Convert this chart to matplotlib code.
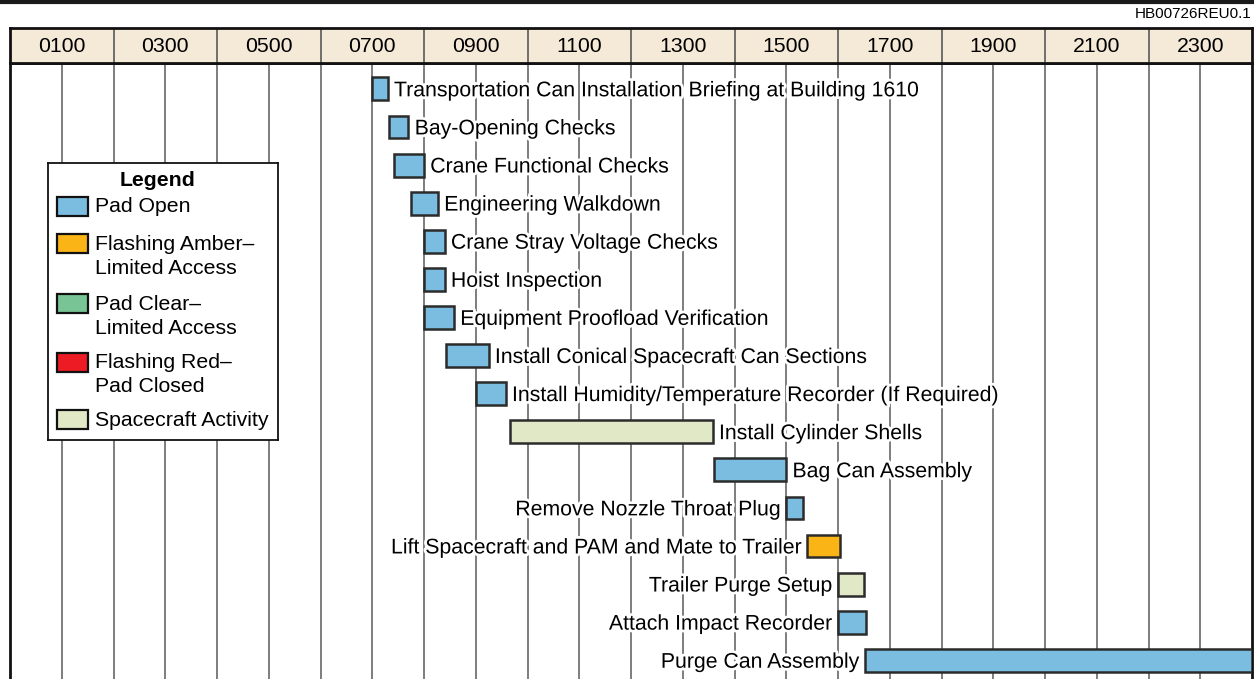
import matplotlib
matplotlib.use("Agg")
import matplotlib.pyplot as plt
from matplotlib.patches import Rectangle
from matplotlib.lines import Line2D
import matplotlib.patheffects as pe

plt.rcParams["font.family"] = ["Liberation Sans", "DejaVu Sans"]

# --- data -------------------------------------------------------------
tasks = [
    "Transportation Can Installation Briefing at Building 1610",
    "Bay-Opening Checks",
    "Crane Functional Checks",
    "Engineering Walkdown",
    "Crane Stray Voltage Checks",
    "Hoist Inspection",
    "Equipment Proofload Verification",
    "Install Conical Spacecraft Can Sections",
    "Install Humidity/Temperature Recorder (If Required)",
    "Install Cylinder Shells",
    "Bag Can Assembly",
    "Remove Nozzle Throat Plug",
    "Lift Spacecraft and PAM and Mate to Trailer",
    "Trailer Purge Setup",
    "Attach Impact Recorder",
    "Purge Can Assembly",
]
start_hr = [7.0, 7.33, 7.42, 7.75, 8.0, 8.0, 8.0, 8.42, 9.0, 9.67,
            13.6, 15.0, 15.4, 16.0, 16.0, 16.52]
end_hr = [7.3, 7.7, 8.0, 8.27, 8.4, 8.4, 8.58, 9.25, 9.58, 13.58,
          15.0, 15.33, 16.03, 16.5, 16.55, 24.0]
status = ["open", "open", "open", "open", "open", "open", "open", "open",
          "open", "sc", "open", "open", "amber", "sc", "open", "open"]
label_side = ["right"] * 11 + ["left"] * 5

hour_labels = ["0100", "0300", "0500", "0700", "0900", "1100",
               "1300", "1500", "1700", "1900", "2100", "2300"]

legend_keys = ["open", "amber", "clear", "red", "sc"]
legend_labels = [["Pad Open"],
                 ["Flashing Amber\u2013", "Limited Access"],
                 ["Pad Clear\u2013", "Limited Access"],
                 ["Flashing Red\u2013", "Pad Closed"],
                 ["Spacecraft Activity"]]
colors = {"open": "#7bbde0", "amber": "#fbb416", "clear": "#79c494",
          "red": "#ed1c24", "sc": "#e1e8c6"}

# --- figure -----------------------------------------------------------
W, H = 1254, 679
fig = plt.figure(figsize=(W / 100, H / 100), dpi=100)
edge = "#2b2b2b"
grid = "#5a5a5a"
fs = 15.3

left = 10 / W
width = 1242 / W
body_top = 63
head_top = 28

ax = fig.add_axes([left, 0, width, (H - body_top) / H])
hx = fig.add_axes([left, (H - body_top) / H, width, (body_top - head_top) / H])

# header band
hx.set_xlim(0, 24)
hx.set_ylim(0, 1)
hx.set_facecolor("#f5e9d7")
hx.vlines(range(2, 24, 2), 0, 1, color=grid, lw=1.2)
for i, lab in enumerate(hour_labels):
    hx.text(2 * i + 1, 0.46, lab, ha="center", va="center", fontsize=fs)
hx.set_xticks([])
hx.set_yticks([])
for s in hx.spines.values():
    s.set_color("#111111")
    s.set_linewidth(2)

# body
n = len(tasks)
ax.set_xlim(0, 24)
ax.set_ylim(15.49, -0.68)
ax.vlines(range(1, 24), -1, n + 1, color=grid, lw=1.1, zorder=1)
ax.set_xticks([])
ax.set_yticks([])
for s in ax.spines.values():
    s.set_color("#111111")
    s.set_linewidth(2)
ax.spines["bottom"].set_visible(False)

halo = [pe.withStroke(linewidth=4, foreground="white")]
for i, (t, a, b, st, side) in enumerate(zip(tasks, start_hr, end_hr, status, label_side)):
    ax.barh(i, b - a, left=a, height=0.6, color=colors[st],
            edgecolor=edge, linewidth=1.8, zorder=3)
    if side == "right":
        ax.text(b + 0.12, i + 0.05, t, ha="left", va="center", fontsize=fs,
                zorder=4, path_effects=halo)
    else:
        ax.text(a - 0.11, i + 0.05, t, ha="right", va="center", fontsize=fs,
                zorder=4, path_effects=halo)

# legend box (own axes, pixel units inside the box)
lx0, ly0, lw, lh = 48, 163, 230, 277
lg = fig.add_axes([lx0 / W, 1 - (ly0 + lh) / H, lw / W, lh / H])
lg.set_xlim(0, lw)
lg.set_ylim(lh, 0)
lg.set_xticks([])
lg.set_yticks([])
for s in lg.spines.values():
    s.set_color("#111111")
    s.set_linewidth(1.3)
lg.text(110, 17, "Legend", ha="center", va="center", fontsize=fs,
        fontweight="bold")
entry_y = [43, 80, 140, 199, 256]
line_gap = 24
for key, lines, y in zip(legend_keys, legend_labels, entry_y):
    lg.add_patch(Rectangle((9, y - 9.5), 31, 19, facecolor=colors[key],
                           edgecolor="#111111", linewidth=1.6))
    for k, line in enumerate(lines):
        lg.text(47, y + 1 + k * line_gap, line, ha="left", va="center",
                fontsize=fs)

# top rule and figure id
fig.add_artist(Line2D([0, 1], [1 - 1.5 / H, 1 - 1.5 / H], color="#1a1a1a", lw=3))
fig.text(1 - 3 / W, 1 - 14 / H, "HB00726REU0.1", ha="right", va="center", fontsize=11)

fig.savefig("out.png", dpi=100)
